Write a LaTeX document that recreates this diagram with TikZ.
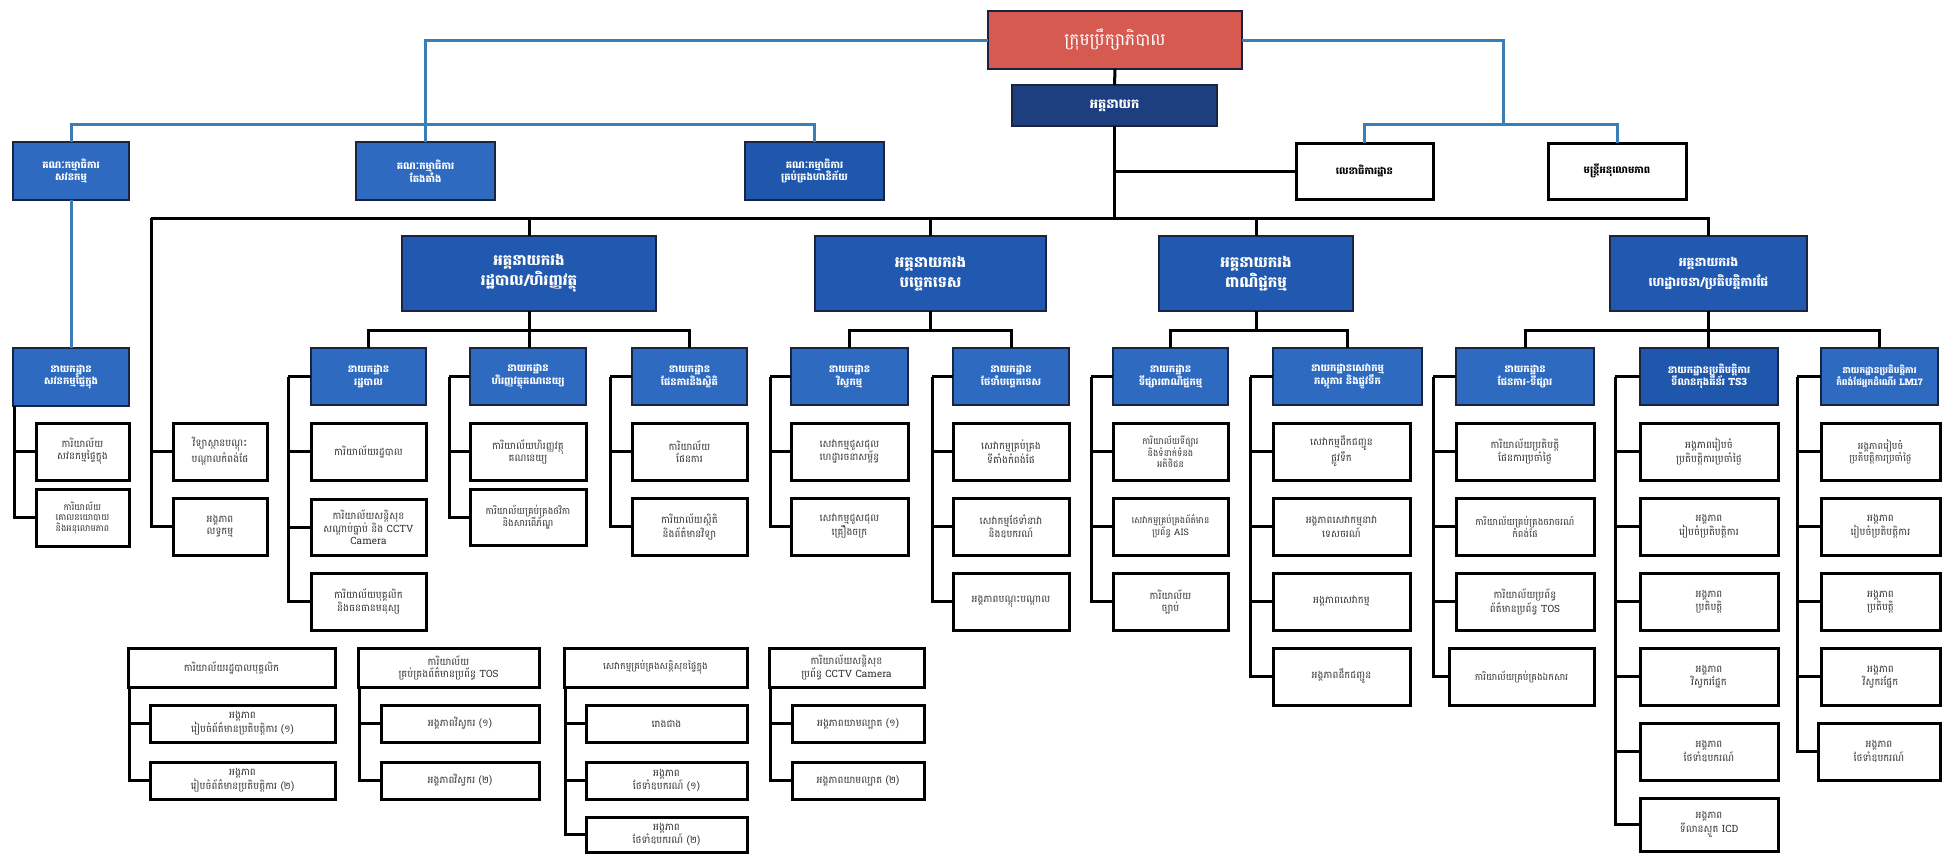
\documentclass[tikz,border=0pt]{standalone}
\usepackage{fontspec}
\newfontfamily\kh[Script=Khmer]{Battambang}
\definecolor{redf}{HTML}{D65A50}
\definecolor{navy}{HTML}{1D3F80}
\definecolor{ddgf}{HTML}{2159B0}
\definecolor{hdrf}{HTML}{2E6AC0}
\definecolor{hdrd}{HTML}{1E57AC}
\definecolor{bline}{HTML}{3B7DB5}
\definecolor{bdr}{HTML}{1A2440}
\definecolor{txg}{HTML}{333333}
\newcommand\bx[7]{%
  \pgfmathsetmacro\bxw{#5-#3}\pgfmathsetmacro\bxh{#6-#4}%
  \pgfmathsetmacro\bxtw{#5-#3-5}%
  \pgfmathsetmacro\bxcx{(#3+#5)/2}\pgfmathsetmacro\bxcy{(#4+#6)/2}%
  \node[#1, minimum width=\bxw pt, minimum height=\bxh pt, text width=\bxtw pt] (#2) at (\bxcx,\bxcy) {#7};}
\tikzset{
  base/.style={rectangle, align=center, inner sep=1pt, outer sep=0pt},
  wbox/.style={base, draw=black, line width=3pt, fill=white, text=txg, font=\kh\fontsize{10}{12}\selectfont},
  hbox/.style={base, draw=bdr, line width=2pt, fill=hdrf, text=white, font=\kh\bfseries\fontsize{10}{12.5}\selectfont},
  cbox/.style={hbox},
  dbox/.style={base, draw=bdr, line width=2pt, fill=ddgf, text=white, font=\kh\bfseries\fontsize{15}{20}\selectfont},
  nbox/.style={base, draw=bdr, line width=2pt, fill=navy, text=white, font=\kh\bfseries\fontsize{13}{15}\selectfont},
  rbox/.style={base, draw=bdr, line width=2pt, fill=redf, text=white, font=\kh\fontsize{17}{20}\selectfont},
  sbox/.style={base, draw=black, line width=3pt, fill=white, font=\kh\bfseries\fontsize{10}{12}\selectfont},
  bk/.style={draw=black, line width=3pt},
  bl/.style={draw=bline, line width=3pt},
}
\begin{document}
\begin{tikzpicture}[x=1pt,y=-1pt]
\useasboundingbox[fill=white] (0,0) rectangle (1944,854);
% ---------- top ----------
\bx{rbox}{board}{988}{11}{1242}{69}{ក្រុមប្រឹក្សាភិបាល}
\bx{nbox}{dg}{1012}{85}{1217}{126}{អគ្គនាយក}
\bx{cbox}{com1}{13}{142}{129}{200}{គណៈកម្មាធិការ\\សវនកម្ម}
\bx{cbox}{com2}{356}{142}{495}{200}{គណៈកម្មាធិការ\\តែងតាំង}
\bx{cbox, fill=hdrd}{com3}{745}{142}{884}{200}{គណៈកម្មាធិការ\\គ្រប់គ្រងហានិភ័យ}
\bx{sbox}{sec}{1296}{143}{1433}{199}{លេខាធិការដ្ឋាន}
\bx{sbox}{comp}{1548}{143}{1686}{199}{មន្ត្រីអនុលោមភាព}
% ---------- deputy DGs ----------
\bx{dbox}{ddg1}{402}{236}{656}{311}{អគ្គនាយករង\\រដ្ឋបាល/ហិរញ្ញវត្ថុ}
\bx{dbox}{ddg2}{815}{236}{1046}{311}{អគ្គនាយករង\\បច្ចេកទេស}
\bx{dbox}{ddg3}{1159}{236}{1353}{311}{អគ្គនាយករង\\ពាណិជ្ជកម្ម}
\bx{dbox, font=\kh\bfseries\fontsize{12.5}{20}\selectfont}{ddg4}{1610}{236}{1807}{311}{អគ្គនាយករង\\ហេដ្ឋារចនា/ប្រតិបត្តិការផែ}
% ---------- audit ----------
\bx{hbox}{aud}{13}{348}{129}{406}{នាយកដ្ឋាន\\សវនកម្មផ្ទៃក្នុង}
\bx{wbox}{a1}{36}{423}{129}{480}{ការិយាល័យ\\សវនកម្មផ្ទៃក្នុង}
\bx{wbox, font=\kh\fontsize{9}{10.5}\selectfont}{a2}{36}{489}{129}{546}{ការិយាល័យ\\គោលនយោបាយ\\និងអនុលោមភាព}
\bx{wbox}{l1}{173}{423}{267}{480}{វិទ្យាស្ថានបណ្តុះ\\បណ្តាលកំពង់ផែ}
\bx{wbox}{l2}{173}{498}{267}{555}{អង្គភាព\\លទ្ធកម្ម}
% ---------- departments ----------
\bx{hbox}{dA}{311}{348}{426}{405}{នាយកដ្ឋាន\\រដ្ឋបាល}
\bx{hbox}{dB}{470}{348}{586}{405}{នាយកដ្ឋាន\\ហិរញ្ញវត្ថុគណនេយ្យ}
\bx{hbox}{dC}{632}{348}{747}{405}{នាយកដ្ឋាន\\ផែនការនិងស្ថិតិ}
\bx{hbox}{dD}{791}{348}{908}{405}{នាយកដ្ឋាន\\វិស្វកម្ម}
\bx{hbox}{dE}{953}{348}{1069}{405}{នាយកដ្ឋាន\\ថែទាំបច្ចេកទេស}
\bx{hbox}{dF}{1113}{348}{1228}{405}{នាយកដ្ឋាន\\ទីផ្សារពាណិជ្ជកម្ម}
\bx{hbox}{dG}{1273}{348}{1422}{405}{នាយកដ្ឋានសេវាកម្ម\\ភស្តុភារ និងផ្លូវទឹក}
\bx{hbox}{dH}{1456}{348}{1594}{405}{នាយកដ្ឋាន\\ផែនការ-ទីផ្សារ}
\bx{hbox, fill=hdrd}{dI}{1640}{348}{1778}{405}{នាយកដ្ឋានប្រតិបត្តិការ\\ទីលានកុងតឺន័រ TS3}
\bx{hbox, font=\kh\bfseries\fontsize{9}{12.5}\selectfont}{dJ}{1821}{348}{1938}{405}{នាយកដ្ឋានប្រតិបត្តិការ\\កំពង់ផែអ្នកដំណើរ LM17}
% children A
\bx{wbox}{A1}{311}{423}{426}{480}{ការិយាល័យរដ្ឋបាល}
\bx{wbox}{A2}{311}{499}{426}{555}{ការិយាល័យសន្តិសុខ\\សណ្តាប់ធ្នាប់ និង CCTV\\Camera}
\bx{wbox}{A3}{311}{573}{426}{630}{ការិយាល័យបុគ្គលិក\\និងធនធានមនុស្ស}
% children B
\bx{wbox}{B1}{470}{423}{586}{480}{ការិយាល័យហិរញ្ញវត្ថុ\\គណនេយ្យ}
\bx{wbox, font=\kh\fontsize{9.5}{12}\selectfont}{B2}{470}{489}{586}{545}{ការិយាល័យគ្រប់គ្រងថវិកា\\និងសារពើភ័ណ្ឌ}
% children C
\bx{wbox}{C1}{632}{423}{747}{480}{ការិយាល័យ\\ផែនការ}
\bx{wbox}{C2}{632}{498}{747}{555}{ការិយាល័យស្ថិតិ\\និងព័ត៌មានវិទ្យា}
% children D
\bx{wbox}{D1}{791}{423}{908}{480}{សេវាកម្មជួសជុល\\ហេដ្ឋារចនាសម្ព័ន្ធ}
\bx{wbox}{D2}{791}{498}{908}{555}{សេវាកម្មជួសជុល\\គ្រឿងចក្រ}
% children E
\bx{wbox}{E1}{953}{423}{1069}{480}{សេវាកម្មគ្រប់គ្រង\\ទីតាំងកំពង់ផែ}
\bx{wbox}{E2}{953}{498}{1069}{555}{សេវាកម្មថែទាំនាវា\\និងឧបករណ៍}
\bx{wbox}{E3}{953}{573}{1069}{630}{អង្គភាពបណ្តុះបណ្តាល}
% children F
\bx{wbox, font=\kh\fontsize{9}{10.5}\selectfont}{F1}{1113}{423}{1228}{480}{ការិយាល័យទីផ្សារ\\និងទំនាក់ទំនង\\អតិថិជន}
\bx{wbox, font=\kh\fontsize{9}{12}\selectfont}{F2}{1113}{498}{1228}{555}{សេវាកម្មគ្រប់គ្រងព័ត៌មាន\\ប្រព័ន្ធ AIS}
\bx{wbox}{F3}{1113}{573}{1228}{630}{ការិយាល័យ\\ច្បាប់}
% children G
\bx{wbox}{G1}{1273}{423}{1410}{480}{សេវាកម្មដឹកជញ្ជូន\\ផ្លូវទឹក}
\bx{wbox}{G2}{1273}{498}{1410}{555}{អង្គភាពសេវាកម្មនាវា\\ទេសចរណ៍}
\bx{wbox}{G3}{1273}{573}{1410}{630}{អង្គភាពសេវាកម្ម}
\bx{wbox}{G4}{1273}{648}{1410}{705}{អង្គភាពដឹកជញ្ជូន}
% children H
\bx{wbox}{H1}{1456}{423}{1594}{480}{ការិយាល័យប្រតិបត្តិ\\ផែនការប្រចាំថ្ងៃ}
\bx{wbox, font=\kh\fontsize{9.5}{12}\selectfont}{H2}{1456}{498}{1594}{555}{ការិយាល័យគ្រប់គ្រងចរាចរណ៍\\កំពង់ផែ}
\bx{wbox}{H3}{1456}{573}{1594}{630}{ការិយាល័យប្រព័ន្ធ\\ព័ត៌មានប្រព័ន្ធ TOS}
\bx{wbox, font=\kh\fontsize{9.5}{12}\selectfont}{H4}{1449}{648}{1594}{705}{ការិយាល័យគ្រប់គ្រងឯកសារ}
% children I
\bx{wbox}{I1}{1640}{423}{1778}{480}{អង្គភាពរៀបចំ\\ប្រតិបត្តិការប្រចាំថ្ងៃ}
\bx{wbox}{I2}{1640}{498}{1778}{555}{អង្គភាព\\រៀបចំប្រតិបត្តិការ}
\bx{wbox}{I3}{1640}{573}{1778}{630}{អង្គភាព\\ប្រតិបត្តិ}
\bx{wbox}{I4}{1640}{648}{1778}{705}{អង្គភាព\\វិស្វករផ្នែក}
\bx{wbox}{I5}{1640}{723}{1778}{780}{អង្គភាព\\ថែទាំឧបករណ៍}
\bx{wbox}{I6}{1640}{798}{1778}{851}{អង្គភាព\\ទីលានស្ងួត ICD}
% children J
\bx{wbox, font=\kh\fontsize{9.5}{12}\selectfont}{J1}{1821}{423}{1940}{480}{អង្គភាពរៀបចំ\\ប្រតិបត្តិការប្រចាំថ្ងៃ}
\bx{wbox}{J2}{1821}{498}{1940}{555}{អង្គភាព\\រៀបចំប្រតិបត្តិការ}
\bx{wbox}{J3}{1821}{573}{1940}{630}{អង្គភាព\\ប្រតិបត្តិ}
\bx{wbox}{J4}{1821}{648}{1940}{705}{អង្គភាព\\វិស្វករផ្នែក}
\bx{wbox}{J5}{1818}{723}{1940}{780}{អង្គភាព\\ថែទាំឧបករណ៍}
% ---------- bottom groups ----------
\bx{wbox}{P0}{128}{648}{335}{687}{ការិយាល័យរដ្ឋបាលបុគ្គលិក}
\bx{wbox}{P1}{150}{705}{335}{742}{អង្គភាព\\រៀបចំព័ត៌មានប្រតិបត្តិការ (១)}
\bx{wbox}{P2}{150}{762}{335}{799}{អង្គភាព\\រៀបចំព័ត៌មានប្រតិបត្តិការ (២)}
\bx{wbox}{Q0}{358}{648}{539}{687}{ការិយាល័យ\\គ្រប់គ្រងព័ត៌មានប្រព័ន្ធ TOS}
\bx{wbox}{Q1}{381}{705}{539}{742}{អង្គភាពវិស្វករ (១)}
\bx{wbox}{Q2}{381}{762}{539}{799}{អង្គភាពវិស្វករ (២)}
\bx{wbox, font=\kh\fontsize{9.5}{12}\selectfont}{R0}{564}{648}{747}{687}{សេវាកម្មគ្រប់គ្រងសន្តិសុខផ្ទៃក្នុង}
\bx{wbox}{R1}{586}{705}{747}{742}{រោងជាង}
\bx{wbox}{R2}{586}{762}{747}{799}{អង្គភាព\\ថែទាំឧបករណ៍ (១)}
\bx{wbox}{R3}{586}{817}{747}{852}{អង្គភាព\\ថែទាំឧបករណ៍ (២)}
\bx{wbox}{S0}{769}{648}{924}{687}{ការិយាល័យសន្តិសុខ\\ប្រព័ន្ធ CCTV Camera}
\bx{wbox}{S1}{792}{705}{924}{742}{អង្គភាពយាមល្បាត (១)}
\bx{wbox}{S2}{792}{762}{924}{799}{អង្គភាពយាមល្បាត (២)}
% ---------- blue connectors ----------
\coordinate (cl) at (0,124);
\coordinate (rj) at (1503,124);
\draw[bl] (board.west) -| (com2.north);
\draw[bl] (com1.north) -- (com1.north |- cl) -- (com3.north |- cl) -- (com3.north);
\draw[bl] (board.east) -| (rj);
\draw[bl] (sec.north) |- (rj) -| (comp.north);
\draw[bl] (com1.south) -- (aud.north);
% ---------- black connectors ----------
\coordinate (mainL) at (151,218);
\draw[bk] (board.south) -- (dg.north);
\draw[bk] (dg.south) -- (dg.south |- mainL);
\draw[bk] (dg.south |- sec.west) -- (sec.west);
\draw[bk] (mainL) -- (mainL -| ddg4.north) -- (ddg4.north);
\foreach \d in {ddg1,ddg2,ddg3} \draw[bk] (\d.north) -- (\d.north |- mainL);
\draw[bk] (mainL) |- (l1.west);
\draw[bk] (mainL) |- (l2.west);
% deputy -> departments
\coordinate (h1) at (0,330);
\draw[bk] (dA.north) -- (dA.north |- h1) -- (dC.north |- h1) -- (dC.north);
\draw[bk] (ddg1.south) -- (ddg1.south |- dB.north);
\draw[bk] (dD.north) -- (dD.north |- h1) -- (dE.north |- h1) -- (dE.north);
\draw[bk] (ddg2.south) -- (ddg2.south |- h1);
\draw[bk] (dF.north) -- (dF.north |- h1) -- (dG.north |- h1) -- (dG.north);
\draw[bk] (ddg3.south) -- (ddg3.south |- h1);
\draw[bk] (dH.north) -- (dH.north |- h1) -- (dJ.north |- h1) -- (dJ.north);
\draw[bk] (ddg4.south) -- (ddg4.south |- dI.north);
% audit children
\coordinate (va) at ([xshift=1.5pt]aud.south west);
\draw[bk] (va) |- (a1.west);
\draw[bk] (va) |- (a2.west);
% department children (vertical from header's left side)
\newcommand\kids[3]{%
  \draw[bk] (#1.west) -- ++(-#2,0) coordinate (v#1);
  \foreach \c in {#3} \draw[bk] (v#1) |- (\c.west);}
\kids{dA}{23}{A1,A2,A3}
\kids{dB}{21}{B1,B2}
\kids{dC}{22}{C1,C2}
\kids{dD}{21}{D1,D2}
\kids{dE}{21}{E1,E2,E3}
\kids{dF}{22}{F1,F2,F3}
\kids{dG}{23}{G1,G2,G3,G4}
\kids{dH}{23}{H1,H2,H3,H4}
\kids{dI}{25}{I1,I2,I3,I4,I5,I6}
\kids{dJ}{24}{J1,J2,J3,J4,J5}
% bottom groups
\foreach \g/\l in {P0/{P1,P2},Q0/{Q1,Q2},R0/{R1,R2,R3},S0/{S1,S2}} {
  \coordinate (vg) at ([xshift=1.5pt]\g.south west);
  \foreach \c in \l \draw[bk] (vg) |- (\c.west);
}
\end{tikzpicture}
\end{document}
